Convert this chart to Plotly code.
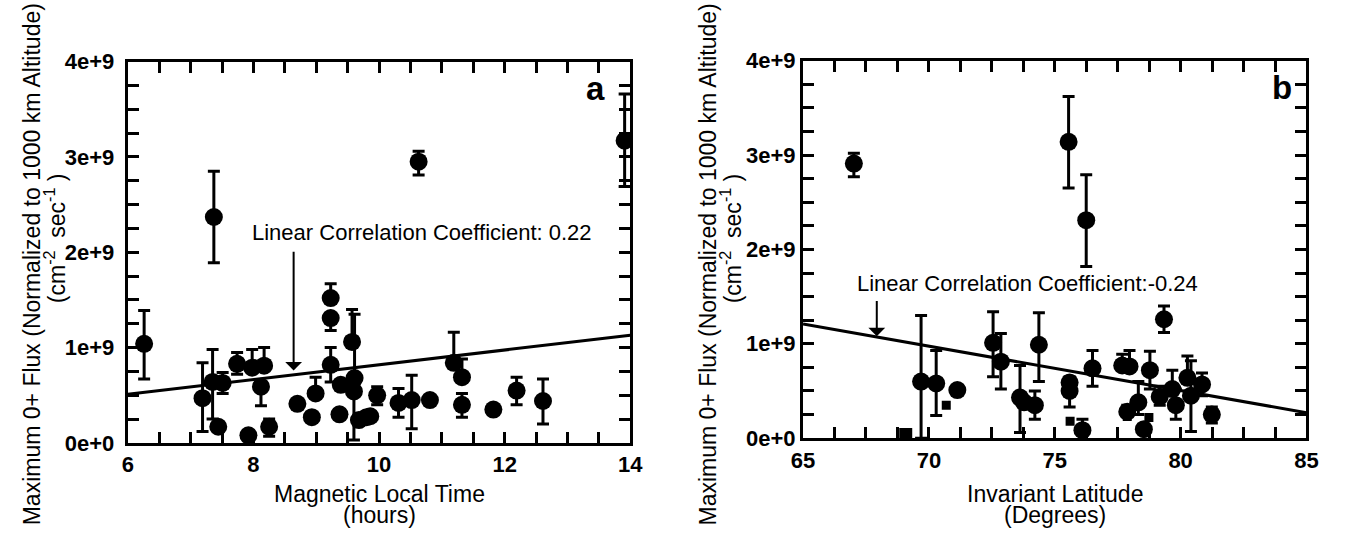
import plotly.graph_objects as go

# ---------------- data (flux in units of 1e9 cm^-2 s^-1) ----------------
# Panel a: Magnetic Local Time
mlt = [6.26, 7.37, 10.63, 13.91, 9.23, 9.23, 9.57, 7.19, 7.35, 7.51, 7.44, 7.74, 7.98, 8.17,
       8.12, 7.92, 8.25, 8.70, 8.99, 8.93, 9.23, 9.39, 9.37, 9.61, 9.60, 9.68, 9.80, 9.86,
       9.97, 10.31, 10.52, 10.81, 11.19, 11.32, 11.32, 11.82, 12.19, 12.61]
flux_a = [1.04, 2.37, 2.95, 3.17, 1.52, 1.31, 1.06, 0.47, 0.64, 0.63, 0.17, 0.83, 0.79, 0.81,
          0.59, 0.08, 0.17, 0.41, 0.52, 0.27, 0.82, 0.61, 0.30, 0.68, 0.54, 0.24, 0.27, 0.28,
          0.50, 0.42, 0.45, 0.45, 0.84, 0.69, 0.40, 0.35, 0.55, 0.44]
hi_a = [1.39, 2.85, 3.06, 3.66, 1.67, None, 1.40, 0.84, 0.98, 0.74, None, 0.95, 0.98, 1.00,
        None, None, 0.25, None, 0.69, None, 1.00, None, None, 1.35, None, None, None, None,
        0.59, 0.57, 0.71, None, 1.16, 0.88, 0.52, None, 0.69, 0.67]
lo_a = [0.67, 1.89, 2.81, 2.69, None, 1.18, None, 0.12, 0.25, 0.52, None, 0.72, None, None,
        0.39, None, 0.07, None, None, None, 0.64, None, None, None, 0.03, None, None, None,
        0.40, 0.27, 0.15, None, None, None, 0.27, None, 0.40, 0.20]
fit_x_a = [6.0, 14.0]
fit_y_a = [0.51, 1.13]

# Panel b: Invariant Latitude
ilat = [67.02, 75.55, 76.25, 79.34, 69.69, 70.29, 71.13, 72.55, 72.86, 73.62, 73.78, 74.21,
        74.37, 75.59, 75.59, 76.10, 76.50, 77.68, 77.97, 77.88, 78.32, 78.54, 78.78, 79.17,
        79.67, 79.81, 80.27, 80.41, 80.85, 81.24]
flux_b = [2.91, 3.14, 2.31, 1.26, 0.60, 0.58, 0.51, 1.01, 0.81, 0.43, 0.38, 0.35,
          0.99, 0.59, 0.50, 0.085, 0.74, 0.77, 0.76, 0.28, 0.38, 0.095, 0.72, 0.44,
          0.52, 0.35, 0.64, 0.45, 0.57, 0.25]
hi_b = [3.02, 3.62, 2.79, 1.40, 1.30, 0.93, None, 1.34, 1.11, 0.77, None, 0.50,
        1.33, 0.65, None, 0.20, 0.93, 0.89, 0.93, 0.35, 0.60, None, 0.92, 0.55,
        0.72, 0.52, 0.87, 0.82, 0.69, 0.33]
lo_b = [2.77, 2.65, 1.82, 1.12, 0.0, 0.24, None, 0.65, 0.52, 0.06, None, 0.20,
        0.60, None, 0.33, None, 0.55, None, None, None, 0.25, None, 0.52, 0.35,
        None, 0.20, None, 0.07, 0.45, 0.16]
sq_x_b = [69.08, 70.69, 75.61, 77.88, 78.74]
sq_y_b = [0.04, 0.35, 0.18, 0.23, 0.22]
sq_size_b = [13, 9, 9, 9, 9]
fit_x_b = [65.0, 85.0]
fit_y_b = [1.21, 0.27]

x_ticks_a = [6, 8, 10, 12, 14]
x_ticks_b = [65, 70, 75, 80, 85]
y_ticks = [0, 1, 2, 3, 4]
y_tick_text = ["0e+0", "1e+9", "2e+9", "3e+9", "4e+9"]

E9 = 1e9
W, H = 1345, 537
FONT = "Liberation Sans, Arial, Helvetica, sans-serif"
NBSP = "\u00a0"


def scaled(v):
    return [None if t is None else t * E9 for t in v]


def err_plus(y, hi):
    return [None if h is None else (h - v) * E9 for v, h in zip(y, hi)]


def err_minus(y, lo):
    return [None if l is None else (v - l) * E9 for v, l in zip(y, lo)]


fig = go.Figure()

panels = [
    dict(x=mlt, y=flux_a, hi=hi_a, lo=lo_a, fx=fit_x_a, fy=fit_y_a, xa="x", ya="y"),
    dict(x=ilat, y=flux_b, hi=hi_b, lo=lo_b, fx=fit_x_b, fy=fit_y_b, xa="x2", ya="y2"),
]

for p in panels:
    fig.add_trace(go.Scatter(
        x=p["fx"], y=scaled(p["fy"]), mode="lines",
        line=dict(color="black", width=3), xaxis=p["xa"], yaxis=p["ya"],
        showlegend=False, hoverinfo="skip"))
    fig.add_trace(go.Scatter(
        x=p["x"], y=scaled(p["y"]), mode="markers",
        marker=dict(symbol="circle", size=18, color="black", opacity=1),
        error_y=dict(type="data", symmetric=False,
                     array=err_plus(p["y"], p["hi"]),
                     arrayminus=err_minus(p["y"], p["lo"]),
                     color="black", thickness=3, width=6),
        xaxis=p["xa"], yaxis=p["ya"], showlegend=False, cliponaxis=True))

fig.add_trace(go.Scatter(
    x=sq_x_b, y=scaled(sq_y_b), mode="markers",
    marker=dict(symbol="square", size=sq_size_b, color="black", opacity=1,
                line=dict(width=0)),
    xaxis="x2", yaxis="y2", showlegend=False))

# ---------------- layout ----------------
pa = dict(l=118, r=630, t=52, b=452)
pb = dict(l=806, r=1319, t=51, b=447)


def xd(p):
    return [p["l"] / W, p["r"] / W]


def yd(p):
    return [1 - p["b"] / H, 1 - p["t"] / H]


axis_common = dict(
    showline=True, linecolor="black", linewidth=3, mirror="allticks",
    ticks="inside", ticklen=11, tickwidth=3, tickcolor="black",
    showgrid=False, zeroline=False, layer="above traces",
    tickfont=dict(family=FONT, size=22, color="black", weight="bold"),
)


def minor_vals(lo, hi, step):
    n = int(round((hi - lo) / step))
    return [lo + i * step for i in range(n + 1)]


def make_xaxis(domain, lo, hi, step, labels, anchor):
    vals = minor_vals(lo, hi, step)
    text = [(str(int(round(v))) if any(abs(v - l) < 1e-9 for l in labels) else "") for v in vals]
    return dict(axis_common, domain=domain, range=[lo, hi], tickmode="array",
                tickvals=vals, ticktext=text, anchor=anchor)


def make_yaxis(domain, anchor, pad):
    vals = minor_vals(0, 4, 0.25)
    text = []
    for v in vals:
        match = [t for yv, t in zip(y_ticks, y_tick_text) if abs(v - yv) < 1e-9]
        text.append(match[0] + pad if match else "")
    return dict(axis_common, domain=domain, range=[0, 4 * E9], tickmode="array",
                tickvals=[v * E9 for v in vals], ticktext=text, anchor=anchor)


fig.update_layout(
    width=W, height=H, margin=dict(l=0, r=0, t=0, b=0),
    paper_bgcolor="white", plot_bgcolor="white",
    font=dict(family=FONT, color="black", size=21),
    xaxis=make_xaxis(xd(pa), 6, 14, 0.5, x_ticks_a, "y"),
    yaxis=make_yaxis(yd(pa), "x", NBSP),
    xaxis2=make_xaxis(xd(pb), 65, 85, 1.25, x_ticks_b, "y2"),
    yaxis2=make_yaxis(yd(pb), "x2", ""),
)

ann = []
base = dict(xref="paper", yref="paper", showarrow=False, xanchor="center", yanchor="middle")
# axis titles
for p, l1, l2 in [(pa, "Magnetic Local Time", "(hours)"), (pb, "Invariant Latitude", "(Degrees)")]:
    cx = (p["l"] + p["r"]) / 2 / W
    ann.append(dict(base, text=l1, x=cx, y=1 - 506 / H, font=dict(size=23)))
    ann.append(dict(base, text=l2, x=cx, y=1 - 528 / H, font=dict(size=23)))
for x1, x2 in [(20, 44), (709, 733)]:
    ann.append(dict(base, text="Maximum 0+ Flux (Normalized to 1000 km Altitude)", x=x1 / W,
                    y=1 - 265 / H, textangle=-90, font=dict(size=23)))
    ann.append(dict(base, text="(cm<sup>-2</sup>  sec<sup>-1</sup> )", x=x2 / W, y=1 - 237 / H,
                    textangle=-90, font=dict(size=23)))
# panel letters
ann.append(dict(text="<b>a</b>", x=13.45, y=3.72 * E9, xref="x", yref="y", showarrow=False,
                xanchor="center", yanchor="middle", font=dict(size=33)))
ann.append(dict(text="<b>b</b>", x=84.03, y=3.71 * E9, xref="x2", yref="y2", showarrow=False,
                xanchor="center", yanchor="middle", font=dict(size=33)))
# correlation notes
ann.append(dict(text="Linear Correlation Coefficient: 0.22", x=10.69, y=2.21 * E9, xref="x", yref="y",
                showarrow=False, xanchor="center", yanchor="middle", font=dict(size=22)))
ann.append(dict(text="", x=8.64, y=0.76 * E9, ax=8.64, ay=2.02 * E9, xref="x", yref="y",
                axref="x", ayref="y", showarrow=True, arrowhead=1, arrowsize=1.4, arrowwidth=2,
                arrowcolor="black"))
ann.append(dict(text="Linear Correlation Coefficient:-0.24", x=73.9, y=1.64 * E9, xref="x2", yref="y2",
                showarrow=False, xanchor="center", yanchor="middle", font=dict(size=22)))
ann.append(dict(text="", x=67.93, y=1.08 * E9, ax=67.93, ay=1.47 * E9, xref="x2", yref="y2",
                axref="x2", ayref="y2", showarrow=True, arrowhead=1, arrowsize=1.4, arrowwidth=2,
                arrowcolor="black"))
fig.update_layout(annotations=ann)

fig.write_html("out.html")
